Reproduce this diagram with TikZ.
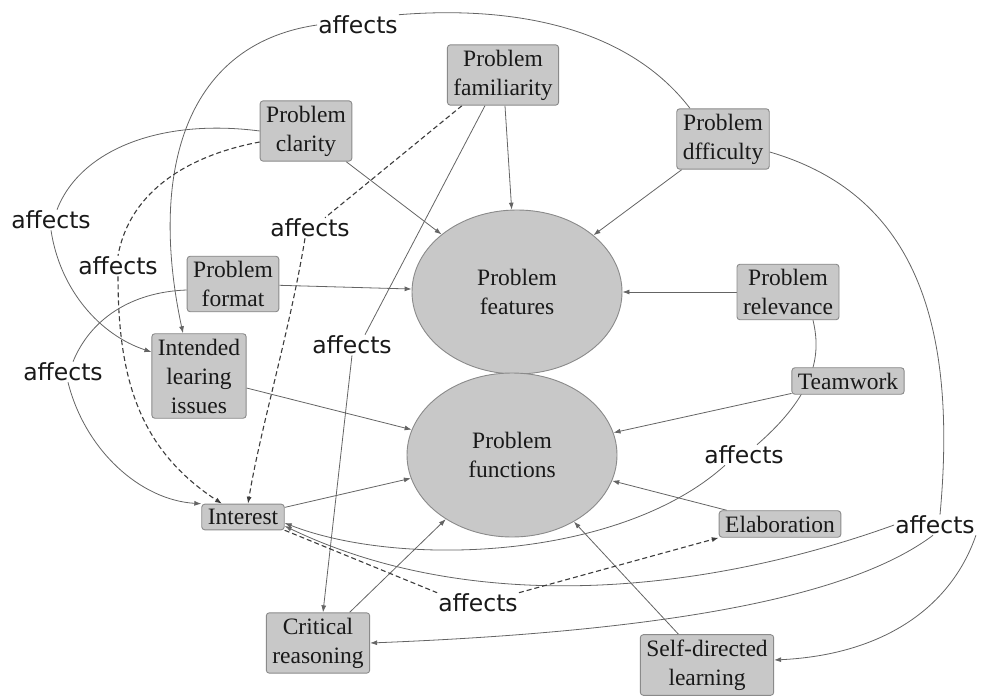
\documentclass[tikz,border=0pt]{standalone}
\usepackage{fontspec}
\setmainfont{Liberation Serif}
\newfontfamily\lblfont{DejaVu Sans}
\usetikzlibrary{arrows.meta,shapes.geometric}
\pgfdeclarelayer{background}
\pgfsetlayers{background,main}
\definecolor{boxfill}{RGB}{200,200,200}
\definecolor{boxline}{RGB}{138,138,138}
\definecolor{wirec}{RGB}{100,100,100}
\definecolor{ink}{RGB}{25,25,25}
\tikzset{
  box/.style={draw=boxline, fill=boxfill, rounded corners=3pt, line width=0.9pt,
    align=center, inner xsep=6pt, inner ysep=5pt,
    font=\fontsize{23.5}{29}\selectfont, text=ink},
  oval/.style={ellipse, draw=boxline, fill=boxfill, line width=0.9pt,
    minimum width=210pt, minimum height=164pt, inner sep=0pt, align=center,
    font=\fontsize{23.5}{29}\selectfont, text=ink},
  lbl/.style={font=\lblfont\fontsize{23.5}{26}\selectfont, text=ink, inner sep=1pt},
  wire/.style={draw=wirec, line width=0.8pt},
  tip/.style={-{Latex[length=7pt,width=5pt]}},
  arr/.style={wire, tip},
  dashwire/.style={draw=ink!85, line width=1.1pt, dash pattern=on 5pt off 3pt},
  dasharr/.style={dashwire, tip}
}
\begin{document}
\begin{tikzpicture}[x=1pt,y=-1pt]
\useasboundingbox (0,0) rectangle (981,700);

% central concepts
\node[oval] (feat) at (517,292) {Problem\\features};
\node[oval] (func) at (512,455) {Problem\\functions};

% factors
\node[box] (fam)  at (503,75)  {Problem\\familiarity};
\node[box] (clar) at (306,131) {Problem\\clarity};
\node[box] (diff) at (723,139) {Problem\\dfficulty};
\node[box] (fmt)  at (233,284) {Problem\\format};
\node[box] (rel)  at (788,292) {Problem\\relevance};
\node[box] (ilis) at (199,376) {Intended\\learing\\issues};
\node[box] (team) at (848,381) {Teamwork};
\node[box] (intr) at (243,517) {Interest};
\node[box] (elab) at (780,524) {Elaboration};
\node[box] (crit) at (318,643) {Critical\\reasoning};
\node[box] (self) at (707,665) {Self-directed\\learning};

% relation labels
\node[lbl] (A1) at (358,25)  {affects};
\node[lbl] (A2) at (51,220)  {affects};
\node[lbl] (A3) at (118,266) {affects};
\node[lbl] (A4) at (310,228) {affects};
\node[lbl] (A5) at (63,372)  {affects};
\node[lbl] (A6) at (352,345) {affects};
\node[lbl] (A7) at (744,455) {affects};
\node[lbl] (A8) at (935,525) {affects};
\node[lbl] (A9) at (478,603) {affects};

\begin{pgfonlayer}{background}
% direct links into the two central concepts
\draw[arr] (fam)  -- (feat);
\draw[arr] (clar) -- (feat);
\draw[arr] (diff) -- (feat);
\draw[arr] (fmt)  -- (feat);
\draw[arr] (rel)  -- (feat);
\draw[arr] (ilis) -- (func);
\draw[arr] (intr) -- (func);
\draw[arr] (team) -- (func);
\draw[arr] (elab) -- (func);
\draw[arr] (crit) -- (func);
\draw[arr] (self) -- (func);

% difficulty -> intended learning issues, over the top
\draw[wire] ([xshift=-33pt]diff.north) .. controls (630,30) and (520,5) .. (A1.north east);
\draw[arr] (A1.west) .. controls (180,45) and (150,180) .. ([xshift=-16pt]ilis.north);

% clarity -> intended learning issues
\draw[wire] (clar.west) .. controls (160,118) and (80,150) .. ([xshift=6pt]A2.north);
\draw[arr] (A2.south) .. controls (60,290) and (100,335) .. ([yshift=24pt]ilis.west);

% clarity -> interest (dashed)
\draw[dashwire] ([yshift=-11pt]clar.west) .. controls (190,155) and (130,190) .. (A3.north);
\draw[dasharr] (A3.south) .. controls (118,380) and (140,450) .. ([xshift=-21pt]intr.north);

% familiarity -> interest (dashed)
\draw[dashwire] ([xshift=-41pt]fam.south) -- ([xshift=15pt]A4.north);
\draw[dasharr] ([xshift=-5pt]A4.south) .. controls (290,330) and (260,430) .. ([xshift=5pt]intr.north);

% format -> interest
\draw[wire] ([yshift=-6pt]fmt.west) .. controls (130,292) and (90,320) .. ([xshift=10pt]A5.north);
\draw[arr] ([xshift=5pt]A5.south) .. controls (85,450) and (140,500) .. (intr.north west);

% familiarity -> critical reasoning
\draw[wire] ([xshift=-18pt]fam.south) -- ([xshift=13pt]A6.north);
\draw[arr] (A6.south) -- ([xshift=5pt]crit.north);

% relevance -> interest
\draw[wire] ([xshift=25pt]rel.south) .. controls (820,350) and (820,390) .. ([xshift=13pt]A7.north);
\draw[arr] ([xshift=-19pt]A7.south) .. controls (620,560) and (400,568) .. ([yshift=-6pt]intr.east);

% difficulty -> interest, critical reasoning, self-directed learning
\draw[wire] ([yshift=-13pt]diff.east) .. controls (900,190) and (960,300) .. ([xshift=5pt]A8.north);
\draw[arr] (A8.west) .. controls (700,595) and (470,615) .. ([yshift=-9pt]intr.east);
\draw[arr] ([xshift=-2pt]A8.south) .. controls (860,590) and (700,630) .. (crit.east);
\draw[arr] (A8.south east) .. controls (950,610) and (880,655) .. ([yshift=5pt]self.east);

% interest -> elaboration (dashed)
\draw[dashwire] (intr.south east) -- (A9.north west);
\draw[dasharr] (A9.north east) -- (elab.south west);
\end{pgfonlayer}
\end{tikzpicture}
\end{document}
